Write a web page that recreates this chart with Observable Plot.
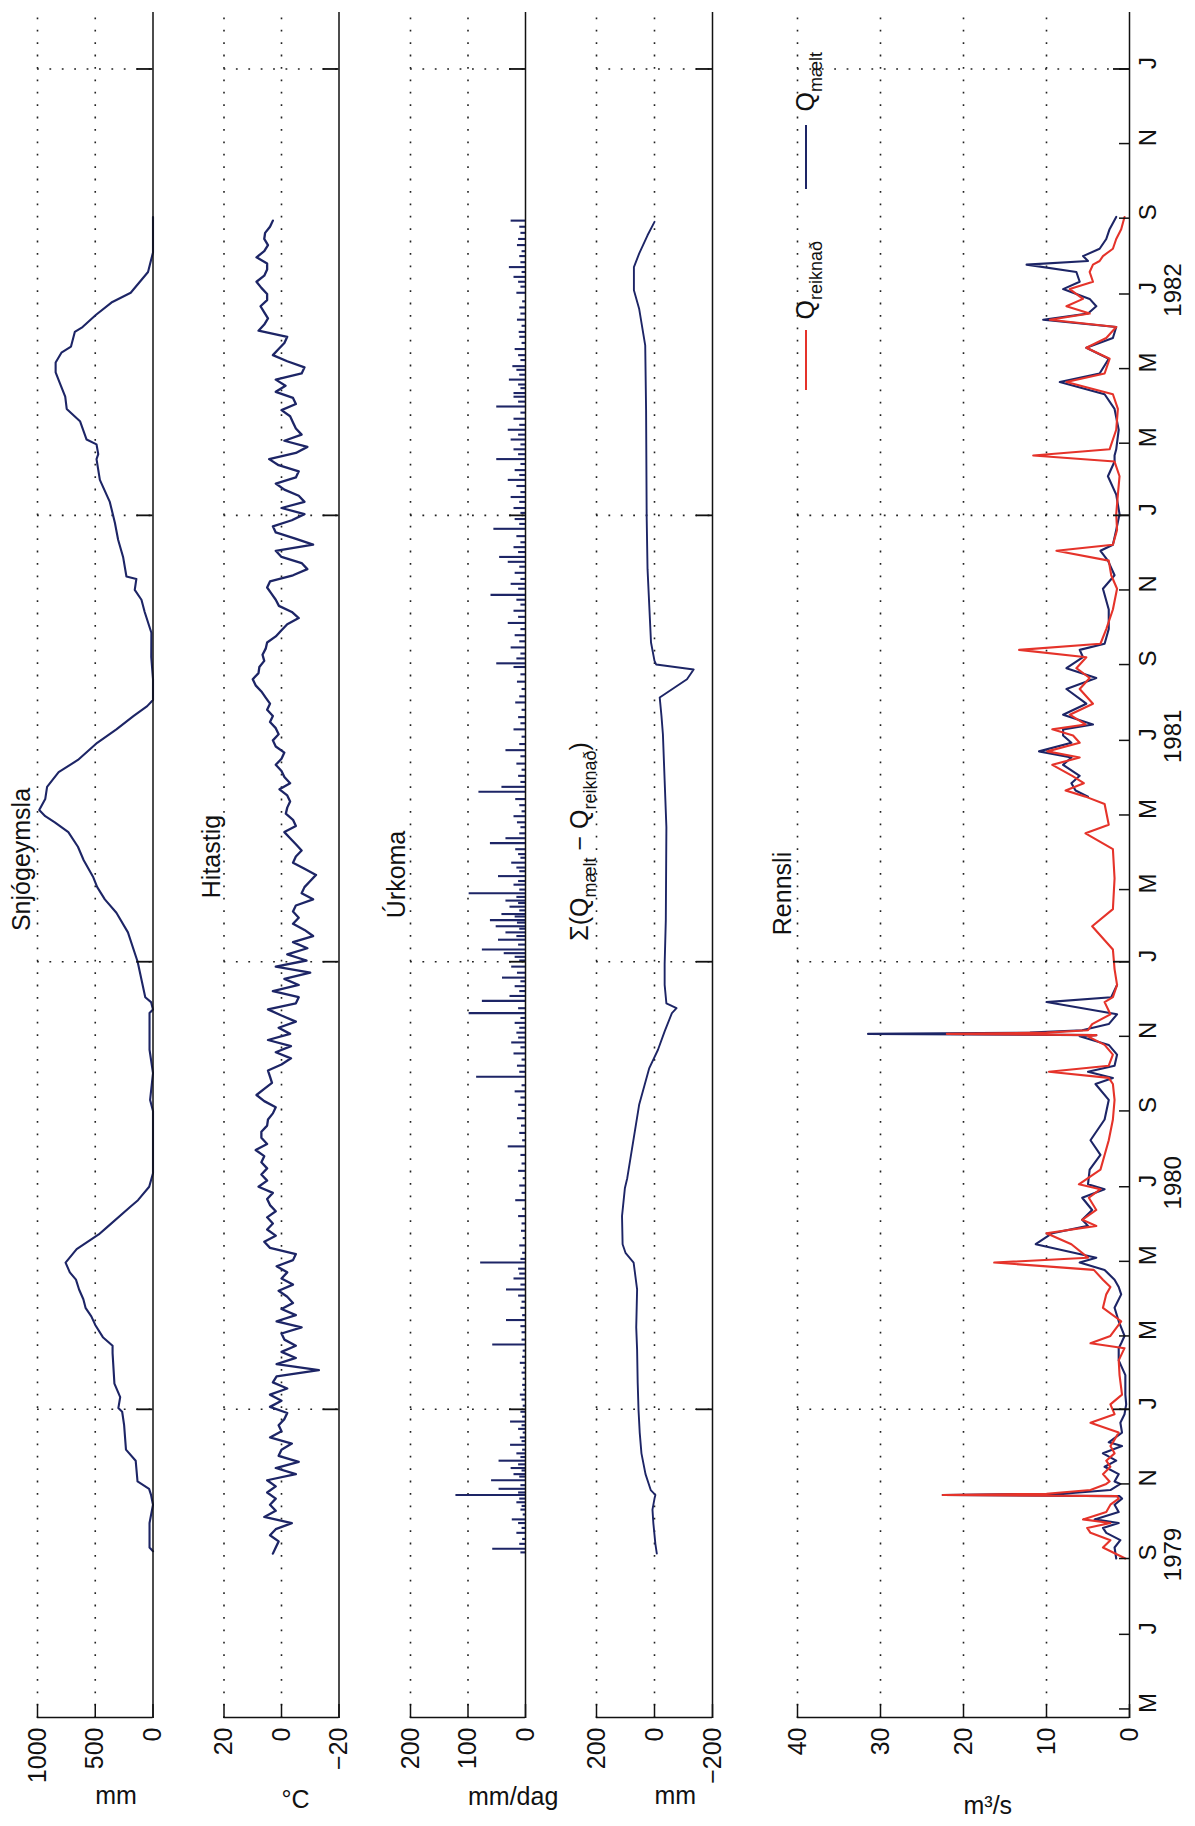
<!DOCTYPE html>
<html>
<head>
<meta charset="utf-8">
<script src="https://cdn.jsdelivr.net/npm/d3@7"></script>
<script src="https://cdn.jsdelivr.net/npm/@observablehq/plot@0.6"></script>
<style>
html, body { margin: 0; padding: 0; background: #fff; width: 1195px; height: 1826px; overflow: hidden; }
#stage { position: absolute; left: 0; top: 1826px; width: 1826px; height: 1195px; transform-origin: 0 0; transform: rotate(-90deg); }
#stage svg { position: absolute; left: 0; top: 0; }
</style>
</head>
<body>
<div id="stage"></div>
<script>
// ---------------- DATA ----------------
// Snow storage (mm)
const snow = [
["1979-09-07",0],["1979-09-10",30],["1979-09-30",30],["1979-10-15",0],["1979-10-23",17],["1979-10-28",34],
["1979-11-03",134],["1979-11-20",150],["1979-11-29",234],["1979-12-19",250],["1979-12-30",267],["1980-01-02",300],
["1980-01-11",284],["1980-01-22",334],["1980-02-16",350],["1980-02-22",350],["1980-02-29",434],["1980-03-10",500],
["1980-03-17",534],["1980-03-24",584],["1980-03-31",603],["1980-04-08",640],["1980-04-16",667],["1980-04-22",720],
["1980-04-30",757],["1980-05-11",661],["1980-05-23",470],["1980-05-29",397],["1980-06-15",191],["1980-06-20",130],
["1980-07-01",33],["1980-07-12",0],["1980-09-01",0],["1980-09-10",25],["1980-10-02",0],["1980-10-21",30],["1980-11-20",30],
["1980-11-23",0],["1980-11-29",17],["1980-12-03",67],["1981-01-01",133],["1981-01-25",217],["1981-02-10",317],
["1981-02-21",417],["1981-03-03",483],["1981-03-11",517],["1981-03-25",600],["1981-04-05",650],["1981-04-17",733],
["1981-04-25",850],["1981-04-30",933],["1981-05-05",985],["1981-05-14",933],["1981-05-24",917],["1981-06-05",817],
["1981-06-15",650],["1981-06-29",483],["1981-07-10",317],["1981-07-21",167],["1981-07-29",50],["1981-08-03",0],
["1981-08-20",0],["1981-09-07",15],["1981-09-27",14],["1981-10-14",72],["1981-10-24",100],["1981-11-01",158],
["1981-11-10",144],["1981-11-12",230],["1981-11-28",259],["1981-12-12",302],["1981-12-26",330],["1982-01-12",374],
["1982-01-30",460],["1982-02-16",489],["1982-02-20",474],["1982-02-28",489],["1982-03-04",575],["1982-03-19",632],
["1982-03-29",747],["1982-04-08",760],["1982-04-20",810],["1982-04-28",843],["1982-05-06",843],["1982-05-14",793],
["1982-05-19",710],["1982-05-31",677],["1982-06-04",610],["1982-06-14",493],["1982-06-24",360],["1982-07-02",193],
["1982-07-19",43],["1982-08-04",0],["1982-09-02",0]
];

// Air temperature (°C), one reading every 5 days from the start date
const tempStart = "1979-09-05";
const tempStepDays = 5;
const tempValues = [
3,2,1,4,2,-3.6,6,2,4,2,5,2,5,-5,2,-6,1,0,-3.6,4,0,1,-1,-2,4,0,4,-2,3,1.7,-13,1.7,-5,0,-5,-1,0,-7,1.7,-5,0,-4,-2,1,-4,
0,-2,1.7,-4,-5,4,6,2,5,3,5,2,4,5,3,8,5,7,5,7,6,9,
5,7,7,5,4.7,3,2,6,8.7,6,3.3,4,4.7,0,-3.3,2,-3.3,4.7,-3,1,-5,0,4.7,-5,-6,3,-6,-1,-10,2,-8.7,-2,-9,-4,-11,-8,-4,-6,-4,-5,
-11,-7,-8,-10,-12,-8,-4,-5,-7,-5,-3,-1,-5,-4,-1.5,-2,-3,-2,0.7,-3,-1,0,2,0,-1,2,3,1,2,4,3,5,4,
5.5,7,9,10,8,7.7,6,6.6,5.5,5,2,0,-2,-6,-3.6,0.9,2,3.5,5,4,-4,-9,-7,0,2,-11,-4.8,2,3,-3.6,-8,0,-8,-6,-1,2,-5,-6,1,4.3,
-5,-9,-1,-7,-5,-4,-3,0,-5,-4,2,-1.4,2,
-7,-8,-2,3,1,-1,-2,8,6,4.7,6,7.3,5,5,7,8.7,6,5,5,8.7,6,4.7,6,5.7,4,3
];

// Precipitation (mm/day)
const rain = [
["1979-09-06",8],["1979-09-09",57],["1979-09-13",10],["1979-09-17",5],["1979-09-22",15],["1979-09-26",6],["1979-09-30",12],
["1979-10-03",23],["1979-10-07",4],["1979-10-11",8],["1979-10-14",6],["1979-10-17",15],["1979-10-20",10],["1979-10-23",121],
["1979-10-25",12],["1979-10-28",46],["1979-10-31",8],["1979-11-04",59],["1979-11-07",10],["1979-11-09",20],["1979-11-12",6],
["1979-11-14",25],["1979-11-17",12],["1979-11-20",46],["1979-11-23",8],["1979-11-26",15],["1979-11-29",5],["1979-12-03",26],
["1979-12-06",6],["1979-12-09",9],["1979-12-13",4],["1979-12-16",12],["1979-12-19",6],["1979-12-22",26],["1979-12-26",5],
["1979-12-30",8],["1980-01-04",4],["1980-01-09",6],["1980-01-13",9],["1980-01-17",3],["1980-01-21",5],["1980-01-26",4],
["1980-01-31",6],["1980-02-04",3],["1980-02-08",9],["1980-02-13",5],["1980-02-18",4],["1980-02-23",57],["1980-02-27",6],
["1980-03-04",6],["1980-03-09",8],["1980-03-14",33],["1980-03-18",5],["1980-03-24",8],["1980-03-29",6],["1980-04-03",12],
["1980-04-08",33],["1980-04-12",8],["1980-04-17",20],["1980-04-21",10],["1980-04-25",12],["1980-04-30",78],["1980-05-03",8],["1980-05-08",5],
["1980-05-14",10],["1980-05-20",4],["1980-05-26",7],["1980-06-01",6],["1980-06-07",12],["1980-06-13",5],["1980-06-20",17],
["1980-06-26",6],["1980-07-02",10],["1980-07-08",4],["1980-07-14",12],["1980-07-20",6],["1980-07-27",8],["1980-08-03",30],
["1980-08-08",5],["1980-08-14",10],["1980-08-20",7],["1980-08-26",14],["1980-09-01",6],["1980-09-06",12],["1980-09-12",8],
["1980-09-17",18],["1980-09-22",6],["1980-09-29",85],["1980-10-03",10],["1980-10-08",14],["1980-10-13",6],["1980-10-18",20],
["1980-10-23",8],["1980-10-27",24],["1980-10-31",12],["1980-11-04",15],["1980-11-08",10],["1980-11-12",18],["1980-11-16",8],
["1980-11-20",98],["1980-11-24",12],["1980-11-30",75],["1980-12-04",27],["1980-12-08",10],["1980-12-12",18],["1980-12-16",8],
["1980-12-19",40],["1980-12-23",14],["1980-12-28",24],["1981-01-02",10],["1981-01-05",18],["1981-01-08",37],["1981-01-11",75],
["1981-01-15",12],["1981-01-19",47],["1981-01-22",15],["1981-01-25",34],["1981-01-28",10],["1981-01-30",51],["1981-02-02",14],
["1981-02-04",61],["1981-02-07",18],["1981-02-09",41],["1981-02-12",10],["1981-02-15",27],["1981-02-18",12],["1981-02-20",34],
["1981-02-23",15],["1981-02-26",98],["1981-03-01",10],["1981-03-05",20],["1981-03-08",12],["1981-03-12",47],["1981-03-16",10],
["1981-03-19",15],["1981-03-23",24],["1981-03-27",8],["1981-03-30",12],["1981-04-03",17],["1981-04-08",61],["1981-04-12",34],
["1981-04-16",10],["1981-04-21",8],["1981-04-25",14],["1981-04-30",20],["1981-05-04",6],["1981-05-09",10],["1981-05-14",17],
["1981-05-20",81],["1981-05-24",41],["1981-05-28",8],["1981-06-02",12],["1981-06-07",6],["1981-06-12",15],["1981-06-18",8],
["1981-06-23",34],["1981-06-28",10],["1981-07-04",6],["1981-07-10",20],["1981-07-15",8],["1981-07-20",12],["1981-07-26",6],
["1981-08-01",17],["1981-08-06",10],["1981-08-12",6],["1981-08-18",14],["1981-08-24",8],["1981-08-30",20],["1981-09-02",50],
["1981-09-06",15],["1981-09-10",8],["1981-09-15",25],["1981-09-20",10],["1981-09-25",18],["1981-09-30",8],["1981-10-05",30],
["1981-10-10",12],["1981-10-15",20],["1981-10-20",8],["1981-10-24",15],["1981-10-28",60],["1981-11-02",12],["1981-11-06",25],
["1981-11-10",8],["1981-11-15",18],["1981-11-20",10],["1981-11-24",30],["1981-11-28",45],["1981-12-02",12],["1981-12-06",20],
["1981-12-10",8],["1981-12-15",15],["1981-12-21",55],["1981-12-25",10],["1981-12-29",18],["1982-01-03",8],["1982-01-07",20],
["1982-01-12",10],["1982-01-16",25],["1982-01-20",8],["1982-01-25",15],["1982-01-30",30],["1982-02-03",10],["1982-02-07",18],
["1982-02-12",8],["1982-02-16",50],["1982-02-20",12],["1982-02-24",20],["1982-02-28",8],["1982-03-04",25],["1982-03-08",12],
["1982-03-12",30],["1982-03-16",10],["1982-03-21",20],["1982-03-26",8],["1982-03-31",50],["1982-04-04",12],["1982-04-08",20],
["1982-04-11",20],["1982-04-15",8],["1982-04-18",12],["1982-04-22",28],["1982-04-26",10],["1982-04-30",15],["1982-05-03",22],
["1982-05-08",8],["1982-05-12",12],["1982-05-17",18],["1982-05-22",6],["1982-05-27",10],["1982-05-31",11],["1982-06-05",6],
["1982-06-10",14],["1982-06-15",8],["1982-06-20",10],["1982-06-25",5],["1982-07-02",15],["1982-07-07",8],["1982-07-11",12],
["1982-07-15",20],["1982-07-19",6],["1982-07-23",28],["1982-07-27",8],["1982-08-01",10],["1982-08-05",6],["1982-08-10",14],
["1982-08-15",12],["1982-08-20",8],["1982-08-25",10],["1982-08-30",25]
];

// Accumulated difference Σ(Q_mælt − Q_reiknað) (mm)
const cumDiff = [
["1979-09-05",-8],["1979-09-13",-3],["1979-09-30",4],["1979-10-11",7],["1979-10-20",0],["1979-10-23",-3],["1979-10-27",13],
["1979-11-09",31],["1979-11-26",45],["1979-12-13",51],["1979-12-31",55],["1980-01-23",58],["1980-02-19",60],["1980-03-08",63],
["1980-04-08",60],["1980-04-30",72],["1980-05-08",100],["1980-05-15",110],["1980-06-07",112],["1980-06-30",102],["1980-07-08",94],
["1980-09-06",53],["1980-10-06",18],["1980-10-21",-12],["1980-11-05",-35],["1980-11-20",-60],["1980-11-24",-76],["1980-11-28",-41],
["1980-12-13",-35],["1980-12-30",-35],["1981-02-04",-39],["1981-04-21",-41],["1981-05-29",-35],["1981-07-06",-29],["1981-07-21",-24],
["1981-08-05",-18],["1981-08-20",-112],["1981-08-28",-135],["1981-09-01",-6],["1981-09-04",0],["1981-09-19",12],["1981-11-18",24],
["1981-12-31",27],["1982-03-28",29],["1982-05-20",32],["1982-06-19",53],["1982-07-04",71],["1982-07-23",71],["1982-08-03",53],
["1982-08-18",24],["1982-08-29",0]
];

// Discharge (m³/s): [date, measured (Q_mælt), computed (Q_reiknað)]
const flow = [
["1979-09-01",1.6,0.5],["1979-09-10",1.8,3.2],["1979-09-16",1.1,2.3],["1979-09-22",2.8,4.7],["1979-09-26",3.2,5.1],
["1979-09-30",1.3,2.3],["1979-10-03",4.2,5.6],["1979-10-09",1.3,2.8],["1979-10-15",1.8,2.3],["1979-10-20",0.9,1.3],
["1979-10-22",1.2,1.5],["1979-10-23",22.5,22.5],["1979-10-24",8,10],["1979-10-27",2.3,4.7],["1979-11-01",1.1,2.8],
["1979-11-03",1.8,2.4],["1979-11-09",1.3,3.2],["1979-11-15",3.0,2.3],["1979-11-20",1.6,2.8],["1979-11-26",3.2,1.8],
["1979-12-02",0.9,2.3],["1979-12-05",2.5,2.0],["1979-12-13",0.9,1.3],["1979-12-21",1.1,4.7],["1979-12-28",0.6,1.8],
["1980-01-05",0.4,2.3],["1980-01-13",0.5,0.9],["1980-01-29",0.5,1.2],["1980-02-10",1.3,1.3],["1980-02-20",1.3,0.6],
["1980-02-24",1.0,4.7],["1980-03-01",0.6,2.3],["1980-03-13",1.3,1.0],["1980-03-24",1.8,3.2],["1980-04-04",1.0,2.8],
["1980-04-10",1.3,2.3],["1980-04-16",1.8,3.2],["1980-04-24",3.0,4.3],["1980-04-30",6.0,16.3],["1980-05-04",4.0,5.0],
["1980-05-15",11.3,7.0],["1980-05-24",9.3,10.0],["1980-05-30",5.0,4.0],["1980-06-04",5.7,5.7],["1980-06-12",4.5,4.0],
["1980-06-22",5.7,4.9],["1980-06-29",3.0,3.5],["1980-07-03",5.0,6.1],["1980-07-15",4.8,3.5],["1980-07-27",3.5,3.0],
["1980-08-08",4.7,2.5],["1980-08-25",3.0,2.0],["1980-09-10",2.5,1.8],["1980-09-23",4.1,2.0],["1980-09-28",2.0,2.5],
["1980-10-03",5.0,9.7],["1980-10-08",1.8,2.5],["1980-10-17",1.5,2.0],["1980-10-25",2.5,3.0],["1980-11-01",6.0,5.0],
["1980-11-02",4,4],["1980-11-03",31.5,22.0],["1980-11-04",12,10],["1980-11-06",5.7,5.0],["1980-11-11",2.5,4.5],
["1980-11-19",1.5,2.3],["1980-11-29",10.0,3.0],["1980-12-03",2.2,2.0],["1980-12-13",1.5,1.5],["1980-12-26",null,1.8],
["1981-01-11",null,2.0],["1981-01-30",null,4.5],["1981-02-13",null,2.0],["1981-03-10",null,1.8],["1981-04-03",null,2.0],
["1981-04-16",null,5.3],["1981-04-23",null,2.5],["1981-05-10",null,3.0],["1981-05-16",5.0,5.3],["1981-05-21",6.5,7.7],
["1981-05-27",7.0,5.5],["1981-06-02",6.0,6.9],["1981-06-11",8.0,9.3],["1981-06-17",7.0,6.0],["1981-06-22",10.9,9.9],
["1981-06-29",7.0,6.0],["1981-07-05",8.0,6.8],["1981-07-10",8.0,9.3],["1981-07-14",4.4,5.3],["1981-07-22",8.0,7.2],
["1981-07-31",5.2,4.4],["1981-08-12",7.6,6.0],["1981-08-21",4.0,4.8],["1981-08-29",7.6,6.4],["1981-09-07",5.6,5.2],
["1981-09-13",6.0,13.3],["1981-09-18",3.0,3.5],["1981-09-30",2.5,2.8],["1981-10-16",2.5,2.0],["1981-11-02",3.2,1.5],
["1981-11-13",1.8,2.2],["1981-11-25",2.6,2.5],["1981-12-03",3.5,8.8],["1981-12-08",2.0,2.0],["1981-12-20",1.6,1.5],
["1982-01-02",1.2,1.6],["1982-01-18",1.6,1.4],["1982-02-02",2.6,1.2],["1982-02-14",1.8,1.8],["1982-02-19",1.8,11.6],
["1982-02-24",1.6,2.4],["1982-03-12",1.3,1.6],["1982-03-29",1.8,1.4],["1982-04-10",3.0,2.0],["1982-04-20",8.4,7.6],
["1982-04-27",3.6,3.0],["1982-05-09",2.5,2.4],["1982-05-18",5.2,5.2],["1982-05-26",2.0,2.8],["1982-06-04",1.6,1.6],
["1982-06-10",10.4,9.6],["1982-06-15",5.0,4.8],["1982-06-21",4.0,7.6],["1982-06-27",4.8,5.6],["1982-07-05",8.0,7.2],
["1982-07-11",6.0,4.4],["1982-07-19",6.4,4.8],["1982-07-25",12.4,4.4],["1982-07-28",5.0,3.6],["1982-08-01",5.6,3.2],
["1982-08-07",3.6,2.0],["1982-08-15",2.8,1.6],["1982-08-23",2.4,1.0],["1982-09-02",1.6,0.6]
];

// Axis ticks and labels
const monthTickDates = ["1979-05-01","1979-07-01","1979-09-01","1979-11-01","1980-01-01","1980-03-01","1980-05-01","1980-07-01",
  "1980-09-01","1980-11-01","1981-01-01","1981-03-01","1981-05-01","1981-07-01","1981-09-01","1981-11-01","1982-01-01",
  "1982-03-01","1982-05-01","1982-07-01","1982-09-01","1982-11-01","1983-01-01"];
const monthTickLabels = ["M","J","S","N","J","M","M","J","S","N","J","M","M","J","S","N","J","M","M","J","S","N","J"];
const yearLabelDates = ["1979-09-01","1980-07-01","1981-07-01","1982-07-01"];
const yearLabels = ["1979","1980","1981","1982"];
const yearStartDates = ["1980-01-01","1981-01-01","1982-01-01","1983-01-01"];
const timeDomain = ["1979-04-24","1983-02-17"];

const snowTicks = [1000, 500, 0], snowTickLabels = ["1000", "500", "0"];
const tempTicks = [20, 0, -20], tempTickLabels = ["20", "0", "\u221220"];
const rainTicks = [200, 100, 0], rainTickLabels = ["200", "100", "0"];
const cumTicks = [200, 0, -200], cumTickLabels = ["200", "0", "\u2212200"];
const flowTicks = [40, 30, 20, 10, 0], flowTickLabels = ["40", "30", "20", "10", "0"];

// ---------------- LAYOUT / STYLE ----------------
const FONT = '"Liberation Sans", Arial, Helvetica, sans-serif';
const NAVY = "#1d2566";
const RED = "#e5332a";
const INK = "#111";
const W = 1826, H = 1195, ML = 108, MR = 12;
const FW = W - ML - MR;
const parse = s => new Date(s);
const xDomain = timeDomain.map(parse);
const janDates = yearStartDates.map(parse);
const DOT = "1.8,10.6";

function makePanel(cfg, dataMarks, extraMarks = []) {
  const PH = cfg.bottom - cfg.top;
  return Plot.plot({
    width: W, height: H,
    marginTop: cfg.top, marginBottom: H - cfg.bottom, marginLeft: ML, marginRight: MR,
    x: {type: "utc", domain: xDomain, axis: null},
    y: {domain: [cfg.ticks[cfg.ticks.length - 1], cfg.ticks[0]], axis: null},
    style: {background: "transparent", overflow: "visible", fontFamily: FONT, fontSize: "25px", color: INK},
    marks: [
      Plot.ruleY(cfg.ticks.slice(0, -1), {stroke: "#222", strokeWidth: 1.6, strokeDasharray: DOT}),
      Plot.ruleX(janDates, {stroke: "#222", strokeWidth: 1.6, strokeDasharray: DOT}),
      ...dataMarks,
      Plot.ruleY([cfg.ticks[cfg.ticks.length - 1]], {stroke: INK, strokeWidth: 1.5}),
      Plot.ruleX([xDomain[0]], {stroke: INK, strokeWidth: 1.5}),
      Plot.tickY(cfg.ticks, {insetRight: FW - 14, stroke: INK, strokeWidth: 1.5}),
      Plot.tickX(janDates, {insetTop: PH - 16, stroke: INK, strokeWidth: 1.8}),
      Plot.text(cfg.ticks, {y: d => d, text: (d, i) => cfg.labels[i], frameAnchor: "left", dx: -10, textAnchor: "end", fontSize: 25}),
      Plot.text([cfg.unit], {text: d => d, frameAnchor: "left", dx: cfg.unitDx, rotate: 90, fontSize: 25}),
      Plot.text([cfg.title], {text: d => d, frameAnchor: "top", dx: cfg.titleDx, dy: cfg.titleDy, lineAnchor: "bottom", fontSize: 25}),
      ...extraMarks
    ]
  });
}

const tempSeries = tempValues.map((v, k) => ({date: d3.utcDay.offset(parse(tempStart), k * tempStepDays), value: v}));

const panels = [];

panels.push(makePanel(
  {top: 37, bottom: 152.5, ticks: snowTicks, labels: snowTickLabels, unit: "mm", unitDx: -78, title: "Snjógeymsla", titleDx: 5, titleDy: -8},
  [Plot.line(snow, {x: d => parse(d[0]), y: d => d[1], stroke: NAVY, strokeWidth: 2.1})]
));

panels.push(makePanel(
  {top: 223.5, bottom: 338.5, ticks: tempTicks, labels: tempTickLabels, unit: "°C", unitDx: -82, title: "Hitastig", titleDx: 8, titleDy: -4},
  [Plot.line(tempSeries, {x: "date", y: "value", stroke: NAVY, strokeWidth: 2.3})]
));

panels.push(makePanel(
  {top: 410, bottom: 525, ticks: rainTicks, labels: rainTickLabels, unit: "mm/dag", unitDx: -79, title: "Úrkoma", titleDx: -10, titleDy: -6},
  [Plot.ruleX(rain, {x: d => parse(d[0]), y1: 0, y2: d => d[1], stroke: NAVY, strokeWidth: 2.1})]
));

panels.push(makePanel(
  {top: 596, bottom: 712, ticks: cumTicks, labels: cumTickLabels, unit: "mm", unitDx: -78, title: "Σ(Q_{mælt} − Q_{reiknað})", titleDx: 23, titleDy: -9},
  [Plot.line(cumDiff, {x: d => parse(d[0]), y: d => d[1], stroke: NAVY, strokeWidth: 1.9})]
));

panels.push(makePanel(
  {top: 797, bottom: 1129, ticks: flowTicks, labels: flowTickLabels, unit: "m³/s", unitDx: -88, title: "Rennsli", titleDx: -29, titleDy: -7},
  [
    Plot.line(flow, {x: d => parse(d[0]), y: d => d[1], stroke: NAVY, strokeWidth: 2.1}),
    Plot.line(flow, {x: d => parse(d[0]), y: d => d[2], stroke: RED, strokeWidth: 2.1})
  ],
  [
    Plot.tickX(monthTickDates, {x: d => parse(d), insetTop: 1129 - 797 - 10, stroke: INK, strokeWidth: 1.5}),
    Plot.text(monthTickDates, {x: d => parse(d), text: (d, i) => monthTickLabels[i], frameAnchor: "bottom", lineAnchor: "top", dy: 9, dx: 6, fontSize: 24}),
    Plot.text(yearLabelDates, {x: d => parse(d), text: (d, i) => yearLabels[i], frameAnchor: "bottom", lineAnchor: "top", dy: 34, dx: 4, fontSize: 24}),
    Plot.text(["Q_{reiknað}"], {text: d => d, frameAnchor: "top-right", dx: -308, dy: 16, textAnchor: "start", lineAnchor: "bottom", fontSize: 25}),
    Plot.text(["Q_{mælt}"], {text: d => d, frameAnchor: "top-right", dx: -100, dy: 16, textAnchor: "start", lineAnchor: "bottom", fontSize: 25})
  ]
));

// subscripts written as _{...}
function rich(svg) {
  const NS = "http://www.w3.org/2000/svg";
  svg.querySelectorAll("text").forEach(t => {
    const s = t.textContent;
    if (!s.includes("_{")) return;
    while (t.firstChild) t.removeChild(t.firstChild);
    let lowered = false;
    for (const p of s.split(/(_\{[^}]*\})/)) {
      if (!p) continue;
      const ts = document.createElementNS(NS, "tspan");
      if (p.startsWith("_{")) {
        ts.textContent = p.slice(2, -1);
        ts.setAttribute("font-size", "72%");
        ts.setAttribute("dy", "8");
        lowered = true;
      } else {
        ts.textContent = p;
        if (lowered) { ts.setAttribute("dy", "-8"); lowered = false; }
      }
      t.appendChild(ts);
    }
  });
}

const stage = document.getElementById("stage");
panels.forEach(svg => { rich(svg); stage.appendChild(svg); });

// legend swatches for the discharge panel
const leg = d3.select(panels[4]);
leg.append("line").attr("x1", 1436).attr("x2", 1496).attr("y1", 806).attr("y2", 806).attr("stroke", RED).attr("stroke-width", 2);
leg.append("line").attr("x1", 1637).attr("x2", 1701).attr("y1", 806).attr("y2", 806).attr("stroke", NAVY).attr("stroke-width", 2);
</script>
</body>
</html>
